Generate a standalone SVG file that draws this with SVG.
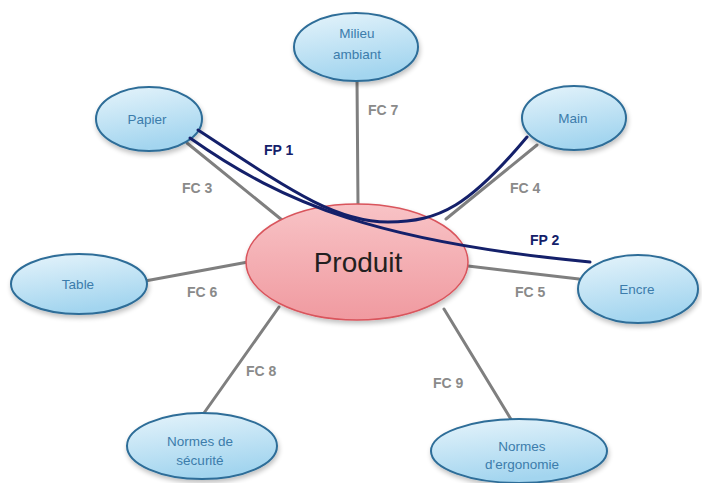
<svg xmlns="http://www.w3.org/2000/svg" width="702" height="483" viewBox="0 0 702 483">
  <defs>
    <linearGradient id="blueFill" x1="0" y1="0" x2="0.3" y2="1">
      <stop offset="0" stop-color="#e6f4fb"/>
      <stop offset="1" stop-color="#a3d5ef"/>
    </linearGradient>
    <linearGradient id="pinkFill" x1="0" y1="0" x2="0" y2="1">
      <stop offset="0" stop-color="#f8c3c6"/>
      <stop offset="1" stop-color="#f09aa0"/>
    </linearGradient>
    <filter id="shadow" x="-20%" y="-20%" width="140%" height="150%">
      <feGaussianBlur in="SourceAlpha" stdDeviation="2.5"/>
      <feOffset dx="1" dy="3" result="b"/>
      <feComponentTransfer><feFuncA type="linear" slope="0.25"/></feComponentTransfer>
      <feMerge><feMergeNode/><feMergeNode in="SourceGraphic"/></feMerge>
    </filter>
  </defs>
  <style>
    .fc { stroke: #7f7f7f; stroke-width: 3; fill: none; stroke-linecap: round; }
    .fp { stroke: #14206a; stroke-width: 3; fill: none; stroke-linecap: round; }
    .node { fill: url(#blueFill); stroke: #2d6d98; stroke-width: 2; filter: url(#shadow); }
    .main { fill: url(#pinkFill); stroke: #d9545c; stroke-width: 1.5; filter: url(#shadow); }
    .lbl { font-family: "Liberation Sans", Arial, sans-serif; font-size: 13.5px; fill: #3c7cab; text-anchor: middle; }
    .fcl { font-family: "Liberation Sans", Arial, sans-serif; font-size: 14px; fill: #8a8a8a; font-weight: bold; }
    .fpl { font-family: "Liberation Sans", Arial, sans-serif; font-size: 14px; fill: #14206a; font-weight: bold; }
    .prod { font-family: "Liberation Sans", Arial, sans-serif; font-size: 28px; fill: #231f20; text-anchor: middle; }
  </style>

  <rect width="702" height="483" fill="#ffffff"/>

  <!-- constraint functions (FC) -->
  <g id="connectors-fc">
    <line class="fc" x1="357" y1="80" x2="358" y2="205"/>
    <line class="fc" x1="187" y1="143" x2="282" y2="220"/>
    <line class="fc" x1="537" y1="145" x2="446" y2="219"/>
    <line class="fc" x1="145" y1="281" x2="248" y2="262"/>
    <line class="fc" x1="468" y1="266" x2="579" y2="279"/>
    <line class="fc" x1="279" y1="307" x2="204" y2="413"/>
    <line class="fc" x1="444" y1="309" x2="512" y2="421"/>
  </g>

  <g id="node-milieu">
    <ellipse class="node" cx="356" cy="47" rx="62" ry="34"/>
    <text class="lbl" x="357" y="38">Milieu</text>
    <text class="lbl" x="357" y="59">ambiant</text>
  </g>
  <g id="node-papier">
    <ellipse class="node" cx="149" cy="119" rx="53" ry="32"/>
    <text class="lbl" x="147" y="124">Papier</text>
  </g>
  <g id="node-main">
    <ellipse class="node" cx="574" cy="118" rx="52" ry="32"/>
    <text class="lbl" x="573" y="123">Main</text>
  </g>
  <g id="node-table">
    <ellipse class="node" cx="79" cy="284" rx="68" ry="30"/>
    <text class="lbl" x="78" y="289">Table</text>
  </g>
  <g id="node-encre">
    <ellipse class="node" cx="638" cy="289" rx="60" ry="34"/>
    <text class="lbl" x="637" y="294">Encre</text>
  </g>
  <g id="node-securite">
    <ellipse class="node" cx="202" cy="446" rx="75" ry="33"/>
    <text class="lbl" x="200" y="446">Normes de</text>
    <text class="lbl" x="200" y="465">sécurité</text>
  </g>
  <g id="node-ergonomie">
    <ellipse class="node" cx="519" cy="451" rx="88" ry="32"/>
    <text class="lbl" x="522" y="451">Normes</text>
    <text class="lbl" x="522" y="469">d'ergonomie</text>
  </g>
  <g id="node-produit">
    <ellipse class="main" cx="357" cy="262" rx="111" ry="58"/>
    <text class="prod" x="358" y="272">Produit</text>
  </g>

  <!-- principal functions (FP) -->
  <g id="connectors-fp">
    <path class="fp" d="M198,130 C290,190 335,222 388,222 C440,222 470,205 527,137"/>
    <path class="fp" d="M190,138 C285,205 380,242 590,262"/>
  </g>

  <g id="labels">
    <text class="fpl" x="264" y="155">FP 1</text>
    <text class="fpl" x="530" y="245">FP 2</text>
    <text class="fcl" x="368" y="115">FC 7</text>
    <text class="fcl" x="182" y="193">FC 3</text>
    <text class="fcl" x="510" y="193">FC 4</text>
    <text class="fcl" x="187" y="297">FC 6</text>
    <text class="fcl" x="515" y="297">FC 5</text>
    <text class="fcl" x="246" y="376">FC 8</text>
    <text class="fcl" x="433" y="388">FC 9</text>
  </g>
</svg>
